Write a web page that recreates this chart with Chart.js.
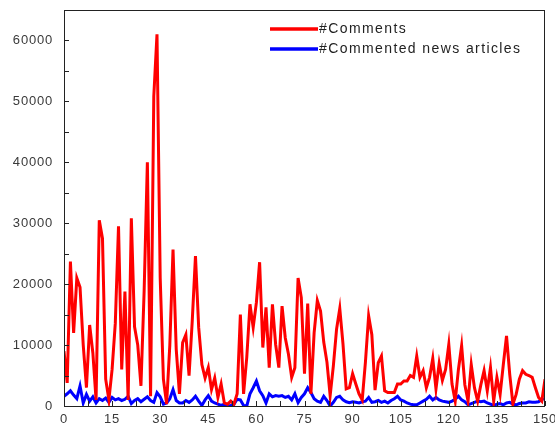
<!DOCTYPE html>
<html>
<head>
<meta charset="utf-8">
<script src="https://cdn.jsdelivr.net/npm/chart.js@4/dist/chart.umd.min.js"></script>
<style>
  html, body { margin: 0; padding: 0; background: #ffffff; }
  #wrap { width: 555px; height: 428px; position: relative; }
</style>
</head>
<body>
<div id="wrap"><canvas id="chart"></canvas></div>
<script>
// ===== DATA =====
const days = Array.from({ length: 151 }, (_, i) => i);

const comments = [
  9000, 3800, 23700, 12000, 21000, 19500, 10000, 3000, 13300, 8700,
  1000, 30500, 27500, 4400, 1000, 6000, 13600, 29500, 6000, 18800,
  1000, 30800, 13000, 10000, 3300, 19000, 40000, 1600, 50800, 61000,
  21000, 4400, 300, 10000, 25700, 9300, 2000, 10400, 11700, 5000,
  14000, 24600, 12900, 6800, 4600, 6300, 2700, 4600, 1400, 3600,
  500, 300, 800, 300, 2000, 15000, 2000, 8000, 16700, 12900,
  17000, 23600, 9600, 16200, 6300, 16700, 10100, 6300, 16400, 11200,
  8500, 4700, 6300, 21000, 17800, 5300, 16800, 2000, 12000, 17300,
  15600, 10500, 7200, 1700, 6600, 12600, 16000, 10200, 2800, 3000,
  5300, 3600, 2000, 1000, 7200, 14800, 11700, 2600, 7100, 8200,
  2500, 2200, 2200, 2200, 3600, 3600, 4100, 4100, 5000, 4700,
  8200, 4700, 5800, 3000, 4700, 7800, 2800, 7000, 4200, 6000,
  10100, 3600, 800, 6000, 9900, 3500, 800, 6800, 3000, 800,
  3500, 5800, 2500, 6300, 800, 4700, 1900, 6800, 11500, 5200,
  300, 1900, 4400, 5800, 5200, 5000, 4700, 3000, 1400, 800,
  4400
];

const articles = [
  1600, 2000, 2500, 1800, 1200, 3300, 500, 1900, 800, 1500,
  500, 1200, 900, 1300, 600, 1400, 1000, 1200, 900, 1100,
  1600, 400, 900, 1200, 700, 1100, 1500, 900, 600, 2200,
  1500, 300, 500, 1200, 2700, 900, 500, 500, 900, 600,
  1000, 1600, 800, 100, 1000, 1700, 800, 500, 300, 100,
  300, 0, 100, 300, 1100, 1000, 100, 0, 2000, 3000,
  4100, 2500, 1700, 500, 2000, 1500, 1700, 1600, 1700, 1400,
  1600, 1000, 2000, 550, 1400, 2000, 3000, 2200, 1200, 800,
  600, 1600, 900, 0, 600, 1400, 1600, 1000, 700, 550,
  700, 600, 500, 700, 800, 1400, 600, 700, 900, 600,
  800, 500, 900, 1200, 1600, 1000, 800, 500, 300, 200,
  200, 500, 800, 1100, 1600, 1000, 1400, 1000, 800, 700,
  600, 800, 1100, 1600, 1000, 700, 200, 400, 600, 800,
  700, 800, 500, 300, 100, 300, 400, 200, 500, 600,
  300, 200, 400, 500, 500, 700, 600, 600, 700, 1100,
  1200
];

const seriesNames = ['#Comments', '#Commented news articles'];
const seriesColors = ['#ff0000', '#0000ff'];

const yMax = 65000;
const yMajor = 10000;
const yMinor = 5000;
const xMax = 150;
const xMajor = 15;
const xMinor = 7.5;

// wider glyph spacing, like the reference's print font
const spacingPlugin = {
  id: 'spacing',
  beforeDraw(chart) { chart.ctx.letterSpacing = '0.8px'; }
};

// ===== PLUGIN: frame, inward ticks, legend inside plot =====
const framePlugin = {
  id: 'frame',
  afterDatasetsDraw(chart) {
    const { ctx, chartArea: a, scales } = chart;
    ctx.save();
    ctx.strokeStyle = '#222222';
    ctx.lineWidth = 1;

    // inward ticks
    ctx.beginPath();
    scales.y.ticks.forEach(t => {
      const py = Math.round(scales.y.getPixelForValue(t.value)) + 0.5;
      ctx.moveTo(a.left, py);
      ctx.lineTo(a.left + 5, py);
    });
    scales.x.ticks.forEach(t => {
      const px = Math.round(scales.x.getPixelForValue(t.value)) + 0.5;
      ctx.moveTo(px, a.bottom);
      ctx.lineTo(px, a.bottom - 5);
    });
    ctx.stroke();

    // box
    ctx.strokeRect(Math.round(a.left) + 0.5, Math.round(a.top) + 0.5,
      Math.round(a.right - a.left) - 1, Math.round(a.bottom - a.top));

    // legend
    ctx.font = '14px "Liberation Sans", Arial, sans-serif';
    ctx.letterSpacing = '1.4px';
    ctx.textBaseline = 'middle';
    ctx.fillStyle = '#222222';
    chart.data.datasets.forEach((ds, i) => {
      const ly = a.top + 19 + i * 20;
      ctx.beginPath();
      ctx.strokeStyle = ds.borderColor;
      ctx.lineWidth = 3.5;
      ctx.moveTo(270, ly);
      ctx.lineTo(318, ly);
      ctx.stroke();
      ctx.fillText(ds.label, 319, ly);
    });
    ctx.restore();
  }
};

const tickFont = { family: '"Liberation Sans", Arial, sans-serif', size: 13 };

new Chart(document.getElementById('chart'), {
  type: 'line',
  data: {
    labels: days,
    datasets: [
      {
        label: seriesNames[0],
        data: comments,
        borderColor: seriesColors[0],
        borderWidth: 3,
        pointRadius: 0,
        tension: 0
      },
      {
        label: seriesNames[1],
        data: articles,
        borderColor: seriesColors[1],
        borderWidth: 3,
        pointRadius: 0,
        tension: 0
      }
    ]
  },
  options: {
    responsive: true,
    maintainAspectRatio: false,
    animation: false,
    layout: { padding: { top: 10, right: 10, left: 0, bottom: 0 } },
    plugins: { legend: { display: false }, tooltip: { enabled: false } },
    scales: {
      x: {
        type: 'linear',
        min: 0, max: xMax,
        grid: { display: false, drawTicks: false },
        border: { display: false },
        afterFit: s => { s.height = 22; s.paddingLeft = 0; s.paddingRight = 0; },
        ticks: {
          stepSize: xMinor,
          padding: 6,
          color: '#3a3a3a',
          font: tickFont,
          maxRotation: 0,
          autoSkip: false,
          callback: v => (v % xMajor === 0 ? String(v) : '')
        }
      },
      y: {
        min: 0, max: yMax,
        grid: { display: false, drawTicks: false },
        border: { display: false },
        afterFit: s => { s.width = 64; s.paddingTop = 0; s.paddingBottom = 0; },
        ticks: {
          stepSize: yMinor,
          padding: 11,
          color: '#3a3a3a',
          font: tickFont,
          autoSkip: false,
          callback: v => (v % yMajor === 0 ? String(v) : '')
        }
      }
    }
  },
  plugins: [spacingPlugin, framePlugin]
});
</script>
</body>
</html>
